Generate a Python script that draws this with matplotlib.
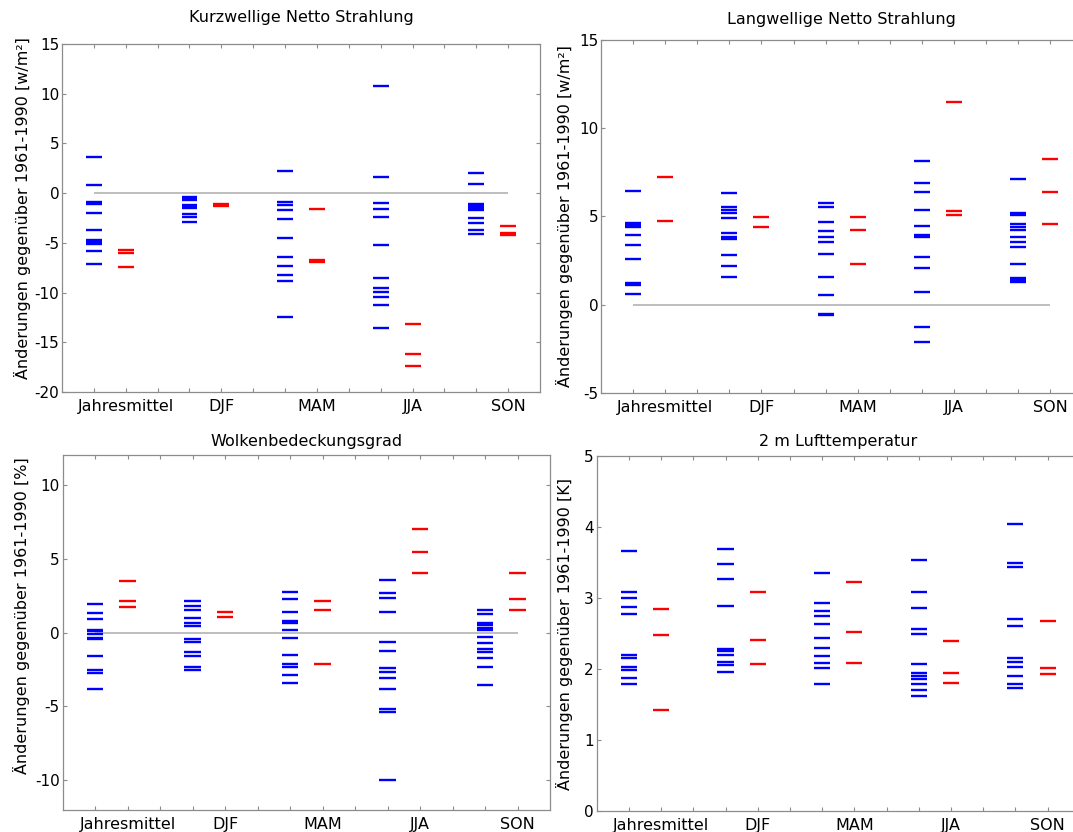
import matplotlib
matplotlib.use('Agg')
import matplotlib.pyplot as plt

# Kategorien (Jahresmittel + Jahreszeiten)
kategorien = ['Jahresmittel', 'DJF', 'MAM', 'JJA', 'SON']

# Kurzwellige Netto Strahlung [w/m²]
kw_blau = [
    [3.6, 0.85, -0.85, -1.1, -1.95, -3.75, -4.7, -4.9, -5.1, -5.8, -7.15],
    [-0.35, -0.55, -0.7, -1.2, -1.35, -1.5, -2.05, -2.35, -2.9],
    [2.2, -0.9, -1.2, -1.7, -2.55, -4.55, -6.4, -7.3, -8.2, -8.85, -12.5],
    [10.8, 1.65, -1.0, -1.55, -2.4, -5.25, -8.5, -9.5, -9.95, -10.4, -11.25, -13.55],
    [2.05, 0.95, -1.1, -1.3, -1.5, -1.7, -2.45, -3.05, -3.7, -4.15],
]
kw_rot = [
    [-5.7, -6.0, -7.45],
    [-1.1, -1.25],
    [-1.6, -6.7, -6.95],
    [-13.2, -16.2, -17.4],
    [-3.3, -4.05, -4.2],
]

# Langwellige Netto Strahlung [w/m²]
lw_blau = [
    [6.45, 4.6, 4.5, 4.4, 3.95, 3.4, 2.6, 1.25, 1.1, 0.6],
    [6.3, 5.55, 5.35, 5.2, 4.9, 4.05, 3.85, 3.7, 2.8, 2.2, 1.55],
    [5.75, 5.55, 4.65, 4.15, 3.8, 3.55, 2.85, 1.55, 0.55, -0.55, -0.6],
    [8.15, 6.9, 6.4, 5.35, 4.45, 3.95, 3.8, 2.7, 2.05, 0.7, -1.25, -2.1],
    [7.1, 5.2, 5.05, 4.55, 4.4, 4.2, 3.85, 3.55, 3.25, 2.3, 1.5, 1.4, 1.3],
]
lw_rot = [
    [7.25, 4.75],
    [4.95, 4.4],
    [4.95, 4.2, 2.3],
    [11.45, 5.3, 5.1],
    [8.25, 6.35, 4.55],
]

# Wolkenbedeckungsgrad [%]
wb_blau = [
    [1.95, 1.3, 0.9, 0.2, 0.1, -0.1, -0.35, -0.45, -1.6, -2.55, -2.75, -3.8],
    [2.15, 1.8, 1.55, 1.0, 0.65, 0.45, -0.45, -0.65, -1.35, -1.6, -2.3, -2.55],
    [2.75, 2.25, 1.4, 0.75, 0.65, 0.15, -0.35, -1.5, -2.1, -2.3, -2.85, -3.4],
    [3.55, 2.65, 2.35, 1.4, -0.65, -1.25, -2.4, -2.7, -3.1, -3.85, -5.2, -5.35, -10.0],
    [1.55, 1.25, 0.65, 0.5, 0.3, 0.15, -0.3, -0.7, -1.1, -1.3, -1.75, -2.3, -3.55],
]
wb_rot = [
    [3.5, 2.1, 1.7],
    [1.4, 1.05],
    [2.1, 1.55, -2.15],
    [7.0, 5.45, 4.0],
    [4.0, 2.3, 1.55],
]

# 2 m Lufttemperatur [K]
t_blau = [
    [3.66, 3.09, 3.0, 2.88, 2.77, 2.2, 2.15, 2.03, 1.99, 1.88, 1.79],
    [3.69, 3.48, 3.27, 2.89, 2.28, 2.25, 2.2, 2.1, 2.05, 1.96],
    [3.35, 2.93, 2.82, 2.74, 2.63, 2.44, 2.29, 2.18, 2.08, 2.02, 1.79],
    [3.54, 3.08, 2.86, 2.56, 2.5, 2.07, 1.94, 1.9, 1.86, 1.79, 1.71, 1.62],
    [4.04, 3.49, 3.44, 2.71, 2.6, 2.16, 2.1, 2.03, 1.9, 1.79, 1.73],
]
t_rot = [
    [2.85, 2.48, 1.42],
    [3.09, 2.41, 2.07],
    [3.23, 2.52, 2.08],
    [2.39, 1.94, 1.81],
    [2.67, 2.02, 1.93],
]

plt.rcParams['font.family'] = 'DejaVu Sans'
plt.rcParams['font.size'] = 11.5
plt.rcParams['axes.unicode_minus'] = False

fig = plt.figure(figsize=(10.73, 8.32), dpi=100)

# Panels: (blau, rot, Titel, Einheit, ylim, yticks, Position, Titelabstand, Label-Koordinaten, Nulllinie)
panels = [
    (kw_blau, kw_rot, 'Kurzwellige Netto Strahlung', '[w/m²]', (-20, 15), range(-20, 16, 5),
     [0.0578, 0.5288, 0.4455, 0.4183], 16, (-0.065, 0.53), True),
    (lw_blau, lw_rot, 'Langwellige Netto Strahlung', '[w/m²]', (-5, 15), range(-5, 16, 5),
     [0.5601, 0.5276, 0.4487, 0.4249], 11, (-0.058, 0.5), True),
    (wb_blau, wb_rot, 'Wolkenbedeckungsgrad', '[%]', (-12, 12), range(-10, 11, 5),
     [0.0583, 0.0264, 0.4543, 0.4267], 6.5, (-0.066, 0.548), True),
    (t_blau, t_rot, '2 m Lufttemperatur', '[K]', (0, 5), range(0, 6),
     [0.5561, 0.0252, 0.4502, 0.4267], 7, (-0.05, 0.5), False),
]

grau = '0.55'
for blau, rot, titel, einheit, ylim, yticks, pos, tpad, lcoord, nulllinie in panels:
    ax = fig.add_axes(pos)
    if nulllinie:
        ax.hlines(0, 1, 3 * len(kategorien) - 1, color='0.7', lw=1.2, zorder=1)
    for i in range(len(kategorien)):
        xb = 3 * i + 1
        xr = 3 * i + 2
        ax.hlines(blau[i], xb - 0.25, xb + 0.25, color='#0000ff', lw=1.7, zorder=2)
        ax.hlines(rot[i], xr - 0.25, xr + 0.25, color='#ff0000', lw=1.7, zorder=2)
    ax.set_xlim(0, 15)
    ax.set_ylim(*ylim)
    ax.set_yticks(list(yticks))
    ax.set_xticks(range(1, 15))
    labels = [''] * 14
    for i, k in enumerate(kategorien):
        labels[3 * i + 1] = k
    ax.set_xticklabels(labels)
    ax.tick_params(direction='in', top=True, right=True, length=3, color=grau, width=0.8)
    ax.tick_params(axis='x', pad=5)
    ax.tick_params(axis='y', pad=2, labelsize=11)
    for sp in ax.spines.values():
        sp.set_color(grau)
        sp.set_linewidth(0.9)
    ax.set_title(titel, pad=tpad, fontsize=11.5)
    ax.set_ylabel('Änderungen gegenüber 1961-1990 ' + einheit)
    ax.yaxis.set_label_coords(*lcoord)

fig.savefig('out.png', dpi=100)
